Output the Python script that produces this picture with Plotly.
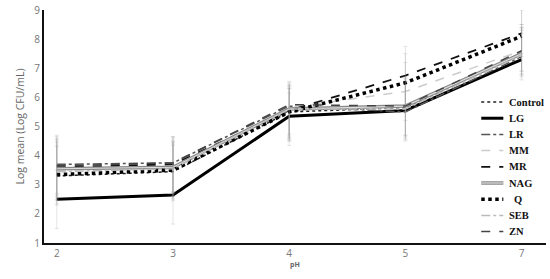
import plotly.graph_objects as go

ph = ["2", "3", "4", "5", "7"]

control = [3.30, 3.45, 5.50, 5.65, 7.50]
lg = [2.50, 2.65, 5.35, 5.55, 7.30]
lr = [3.70, 3.75, 5.70, 5.50, 7.40]
mm = [3.50, 3.60, 5.65, 6.20, 7.60]
mr = [3.60, 3.70, 5.55, 6.75, 8.20]
nag = [3.55, 3.60, 5.60, 5.70, 7.50]
q = [3.35, 3.50, 5.50, 6.50, 8.10]
seb = [3.45, 3.55, 5.60, 5.60, 7.45]
zn = [3.65, 3.75, 5.75, 5.70, 7.60]

err_hi = [1.00, 0.90, 0.80, 1.00, 0.90]
err_lo = [1.00, 1.00, 1.00, 1.00, 0.70]

series = [
    ("Control", control, dict(color="#222222", width=1.5, dash="dot")),
    ("LG", lg, dict(color="#000000", width=3, dash="solid")),
    ("LR", lr, dict(color="#555555", width=1.5, dash="dashdot")),
    ("MM", mm, dict(color="#cccccc", width=1.5, dash="dash")),
    ("MR", mr, dict(color="#111111", width=1.8, dash="dash")),
    ("NAG", nag, dict(color="#888888", width=3.5, dash="solid")),
    ("Q", q, dict(color="#000000", width=3.5, dash="dot")),
    ("SEB", seb, dict(color="#bbbbbb", width=1.5, dash="dashdot")),
    ("ZN", zn, dict(color="#444444", width=1.5, dash="dash")),
]

fig = go.Figure()

for name, vals, line in series:
    fig.add_trace(go.Scatter(
        x=ph, y=vals, name=name, mode="lines", line=line, showlegend=False,
        error_y=dict(type="data", symmetric=False, array=err_hi, arrayminus=err_lo,
                     color="rgba(160,160,160,0.35)", thickness=0.8, width=2),
    ))
    if name == "NAG":
        # light core to give the double-line look
        fig.add_trace(go.Scatter(x=ph, y=vals, mode="lines", showlegend=False,
                                 line=dict(color="#dddddd", width=1.2)))

# hand-drawn legend (plotly's legend rows are too tall for this layout)
lx0, lx1, tx = 0.871, 0.915, 0.922
ly0, lstep = 0.605, 0.0695
for i, (name, vals, line) in enumerate(series):
    yy = ly0 - i * lstep
    fig.add_shape(type="line", xref="paper", yref="paper",
                  x0=lx0, x1=lx1, y0=yy, y1=yy, line=line)
    if name == "NAG":
        fig.add_shape(type="line", xref="paper", yref="paper",
                      x0=lx0, x1=lx1, y0=yy, y1=yy,
                      line=dict(color="#dddddd", width=1.2))
    fig.add_annotation(x=tx + (0.01 if name == "Q" else 0), y=yy, xref="paper", yref="paper",
                       text="<b>%s</b>" % name, showarrow=False,
                       xanchor="left", yanchor="middle",
                       font=dict(family="Liberation Serif", size=10.5, color="#111111"))

fig.update_layout(
    width=550, height=279,
    margin=dict(l=44, r=4, t=10, b=36),
    paper_bgcolor="white", plot_bgcolor="white",
    showlegend=False,
    font=dict(family="Open Sans", color="#666666"),
)

fig.update_xaxes(
    type="category", range=[-0.11, 4.21], automargin=False,
    showline=True, linecolor="#111111", linewidth=2,
    showgrid=False, ticks="", tickfont=dict(size=10, color="#777777"),
    title=dict(text="<b>pH</b>", font=dict(size=7, color="#666666"), standoff=2),
)
fig.update_yaxes(
    range=[1, 9], dtick=1, automargin=False,
    showline=True, linecolor="#111111", linewidth=2,
    showgrid=False, zeroline=False, ticks="", tickfont=dict(size=10, color="#777777"),
    title=dict(text="Log mean (Log CFU/mL)", font=dict(size=10.5, color="#666666"), standoff=8),
)

# drop the page's default body margin so the figure fills the window
fig.write_html("out.html", config={"displayModeBar": False},
               post_script="document.body.style.margin='0';")
